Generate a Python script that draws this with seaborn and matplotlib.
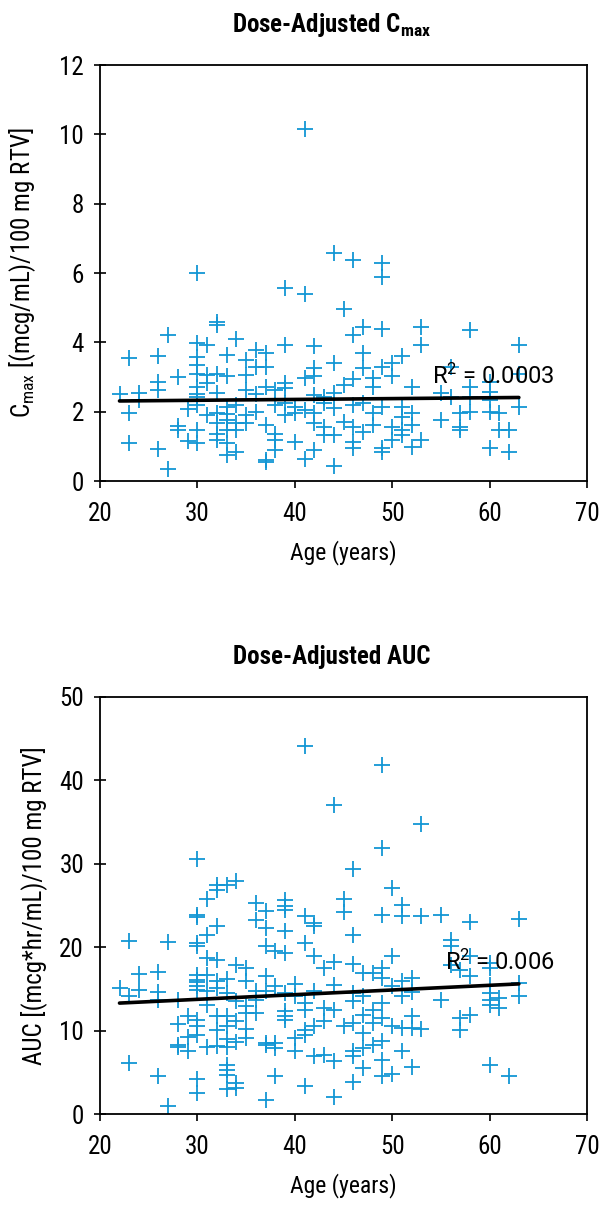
import matplotlib
matplotlib.use("Agg")
import matplotlib.pyplot as plt
import matplotlib.font_manager as fm
import seaborn as sns
import pandas as pd

# ---------------- data ----------------
cmax_age = [30, 32, 32, 27, 30, 31, 34, 23, 26, 30, 33, 36, 35, 30, 30, 31, 32, 33, 28, 26,
            26, 35, 36, 31, 30, 30, 30, 32, 22, 24, 24, 35, 36, 30, 29, 23, 31, 32, 33, 33,
            34, 35, 36, 32, 33, 34, 35, 28, 28, 30, 32, 33, 34, 30, 29, 32, 33, 33, 34, 23,
            26, 27, 37,
            44, 46, 49, 49, 39, 41, 45, 46, 47, 49, 53, 53, 39, 42, 44, 47, 51, 42, 42, 41,
            47, 49, 50, 50, 46, 45, 48, 48, 52, 39, 39, 38, 37, 37, 37, 42, 43, 44, 39, 38,
            40, 39, 40, 41, 42, 43, 44, 46, 47, 48, 49, 51, 52, 51, 42, 43, 45, 46, 47, 48,
            50, 51, 52, 37, 38, 38, 37, 38, 40, 41, 42, 44, 43, 46, 46, 49, 49, 50, 51, 52,
            53, 44, 41,
            58, 63, 58, 60, 55, 56, 58, 60, 60, 63, 56, 63, 57, 58, 60, 61, 55, 57, 57, 61,
            62, 60, 62]
cmax_val = [6.0, 4.6, 4.5, 4.2, 3.99, 3.92, 4.1, 3.54, 3.6, 3.57, 3.63, 3.78, 3.5, 3.35, 3.1, 3.06, 3.08, 3.04, 2.99, 2.85,
            2.63, 3.06, 3.3, 2.84, 2.72, 2.5, 2.43, 2.53, 2.5, 2.55, 2.33, 2.64, 2.5, 2.19, 2.07, 1.95, 1.9, 1.95, 1.93, 2.14,
            2.19, 1.9, 2.0, 1.66, 1.76, 1.66, 1.66, 1.6, 1.47, 1.47, 1.37, 1.47, 1.47, 1.09, 1.16, 1.18, 1.1, 0.75, 0.85, 1.09,
            0.91, 0.34, 0.56,
            6.59, 6.38, 6.3, 5.9, 5.56, 5.41, 4.95, 4.2, 4.45, 4.4, 4.45, 3.92, 3.92, 3.89, 3.41, 3.7, 3.6, 3.25, 3.03, 2.96,
            3.25, 3.3, 3.41, 3.03, 2.93, 2.77, 2.96, 2.72, 2.72, 2.82, 2.67, 2.62, 3.68, 3.3, 2.72, 2.48, 2.43, 2.53, 2.24, 2.19,
            2.14, 1.9, 1.95, 2.05, 1.95, 2.24, 2.1, 2.19, 2.24, 1.95, 2.14, 2.14, 1.95, 1.86, 1.66, 1.57, 1.71, 1.57, 1.42, 1.62,
            1.57, 1.47, 1.62, 1.62, 1.37, 1.18, 0.6, 0.89, 1.13, 0.65, 0.89, 1.33, 1.33, 1.13, 0.94, 0.94, 0.85, 1.18, 1.33, 0.99,
            1.18, 0.43, 10.15,
            4.36, 3.92, 2.72, 2.86, 2.53, 2.43, 2.43, 2.58, 2.34, 3.1, 3.3, 2.14, 1.95, 2.0, 2.0, 1.95, 1.76, 1.57, 1.47, 1.47,
            1.47, 0.94, 0.85]

auc_age = [30, 32, 32, 33, 34, 31, 36, 36, 30, 30, 32, 31, 23, 27, 30, 30, 31, 32, 24, 26,
           34, 35, 30, 30, 30, 30, 30, 31, 32, 33, 35, 22, 24, 26, 26, 28, 23, 31, 32, 33,
           34, 35, 36, 36, 31, 29, 28, 30, 30, 30, 32, 33, 34, 35, 36, 32, 33, 35, 29, 28,
           28, 29, 31, 32, 33, 33, 34, 35, 37, 23, 26, 30, 30, 33, 33, 33, 34, 33, 34, 27,
           37,
           44, 53, 49, 46, 50, 39, 39, 39, 45, 45, 51, 51, 49, 53, 41, 42, 42, 37, 37, 39,
           41, 46, 37, 38, 39, 42, 43, 44, 46, 50, 47, 48, 49, 49, 51, 52, 37, 38, 40, 42,
           44, 46, 47, 50, 51, 52, 37, 39, 40, 41, 41, 39, 39, 39, 43, 44, 46, 48, 49, 49,
           47, 42, 43, 45, 46, 48, 50, 51, 52, 52, 53, 41, 41, 40, 40, 37, 38, 38, 42, 43,
           44, 46, 46, 47, 47, 48, 49, 49, 51, 38, 41, 46, 47, 49, 50, 52, 44, 41, 49,
           55, 58, 63, 56, 56, 58, 57, 58, 60, 60, 60, 60, 60, 60, 61, 61, 63, 63, 55, 57,
           58, 57, 60, 62, 56]
auc_val = [30.6, 27.5, 26.9, 27.4, 27.9, 25.8, 25.3, 23.3, 23.9, 23.6, 22.6, 21.5, 20.8, 20.6, 20.5, 20.1, 18.7, 18.5, 16.8, 17.0,
           17.9, 17.5, 16.7, 16.1, 15.8, 15.4, 14.9, 16.7, 15.9, 16.2, 15.9, 15.1, 14.9, 14.6, 13.7, 13.7, 14.1, 14.7, 15.1, 14.5,
           13.5, 12.9, 14.7, 13.7, 13.1, 11.7, 10.8, 11.3, 10.5, 9.5, 11.7, 11.8, 11.1, 12.1, 12.1, 10.1, 10.5, 10.2, 9.2, 8.3,
           8.0, 7.5, 8.0, 8.1, 8.0, 9.0, 8.6, 9.1, 8.3, 6.1, 4.5, 4.2, 2.5, 5.9, 5.3, 4.7, 3.7, 3.0, 3.1, 1.0,
           1.7,
           37.0, 34.8, 31.9, 29.4, 27.1, 25.7, 24.9, 24.5, 25.8, 24.2, 25.0, 23.7, 23.9, 23.8, 23.7, 22.9, 22.6, 24.3, 22.3, 21.9,
           20.5, 21.5, 20.1, 19.5, 19.3, 19.0, 17.5, 18.2, 18.0, 18.9, 16.9, 16.9, 17.5, 16.3, 15.9, 16.3, 16.5, 15.3, 15.6, 14.7,
           15.5, 14.5, 14.1, 15.3, 14.1, 14.6, 14.7, 14.5, 14.1, 13.3, 12.5, 12.3, 11.7, 11.3, 12.7, 12.5, 13.5, 12.5, 13.3, 11.5,
           11.9, 10.5, 11.1, 10.5, 10.9, 10.9, 10.5, 10.3, 11.7, 10.3, 10.2, 10.1, 9.5, 9.1, 7.5, 8.5, 8.5, 7.9, 6.9, 7.1,
           6.3, 7.5, 6.9, 9.7, 7.9, 8.3, 8.7, 6.5, 7.5, 4.6, 3.4, 3.8, 5.5, 4.6, 4.8, 5.6, 2.1, 44.1, 41.8,
           23.9, 23.0, 23.4, 20.9, 20.1, 18.9, 17.3, 16.5, 18.1, 17.5, 15.5, 14.5, 13.7, 13.1, 13.9, 12.7, 15.7, 14.1, 13.7, 11.5,
           11.9, 10.1, 5.9, 4.6, 17.9]

# trend lines
trend_age = [22, 63]
cmax_trend = [2.31, 2.41]
auc_trend = [13.3, 15.6]

cmax_r2 = "R$^2$ = 0.0003"
auc_r2 = "R$^2$ = 0.006"

x_ticks = [20, 30, 40, 50, 60, 70]
cmax_ticks = [0, 2, 4, 6, 8, 10, 12]
auc_ticks = [0, 10, 20, 30, 40, 50]

# ---------------- style ----------------
sns.set_style("ticks")
installed = {f.name for f in fm.fontManager.ttflist}


def pick(*cands):
    for c in cands:
        if c in installed:
            return c
    return "DejaVu Sans"


BASE = pick("Liberation Sans Narrow", "Roboto Condensed", "Liberation Sans", "Arimo", "Roboto")
R2FONT = pick("Roboto", "Liberation Sans", "Arimo")
plt.rcParams["font.family"] = [BASE, "DejaVu Sans"]
plt.rcParams["mathtext.default"] = "regular"
plt.rcParams["axes.linewidth"] = 1.3
for k in ["text.color", "axes.labelcolor", "xtick.color", "ytick.color"]:
    plt.rcParams[k] = "black"

BLUE = "#1296d4"
FS_TICK = 18
FS_XLAB = 17
FS_YLAB = 18

fig = plt.figure(figsize=(6, 12.05), dpi=100)
ax1 = fig.add_axes([0.1667, 0.6008, 0.8117, 0.3452])
ax2 = fig.add_axes([0.1667, 0.0755, 0.8117, 0.3461])

df1 = pd.DataFrame({"age": cmax_age, "val": cmax_val})
df2 = pd.DataFrame({"age": auc_age, "val": auc_val})


def draw(ax, df, trend, ticks, ylim, title, ylabel, ylpad, r2, r2_pos):
    sns.scatterplot(data=df, x="age", y="val", marker="+", color=BLUE, s=120,
                    linewidth=1.3, ax=ax, zorder=2)
    sns.lineplot(x=trend_age, y=trend, color="black", linewidth=2.6, ax=ax, zorder=3)
    ax.set_xlim(20, 70)
    ax.set_ylim(*ylim)
    ax.set_xticks(x_ticks)
    ax.set_yticks(ticks)
    for s in ax.spines.values():
        s.set_visible(True)
        s.set_color("black")
        s.set_linewidth(1.3)
    ax.tick_params(axis="x", direction="out", length=5, width=1.2, labelsize=FS_TICK, pad=10)
    ax.tick_params(axis="y", direction="inout", length=8, width=1.2, labelsize=FS_TICK, pad=7.5)
    ax.set_xlabel("Age (years)", fontsize=FS_XLAB, labelpad=10)
    ax.set_ylabel(ylabel, fontsize=FS_YLAB, labelpad=ylpad)
    ax.set_title(title, fontsize=18, fontweight="bold", pad=24, x=0.475)
    ax.text(r2_pos[0], r2_pos[1], r2, fontsize=17, va="baseline", ha="left",
            family=[R2FONT, "DejaVu Sans"], zorder=4)


draw(ax1, df1, cmax_trend, cmax_ticks, (0, 12), "Dose-Adjusted C$_{max}$",
     "C$_{max}$ [(mcg/mL)/100 mg RTV]", 15, cmax_r2, (54.1, 2.80))
draw(ax2, df2, auc_trend, auc_ticks, (0, 50), "Dose-Adjusted AUC",
     "AUC [(mcg*hr/mL)/100 mg RTV]", 9, auc_r2, (55.4, 17.3))

fig.savefig("out.png", dpi=100)
